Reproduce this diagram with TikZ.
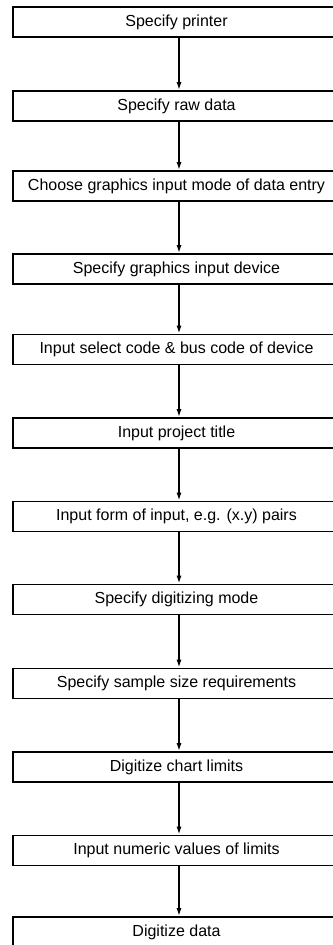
\documentclass[tikz,border=0pt]{standalone}
\usepackage{fontspec}
\setmainfont{Liberation Sans}
\usetikzlibrary{arrows.meta}
\begin{document}
\begin{tikzpicture}[x=1pt,y=-1pt,
  stepbox/.style={draw,line width=1.6pt,minimum width=327pt,minimum height=30pt,inner sep=0pt,font=\fontsize{16}{18}\selectfont,anchor=center},
  flow/.style={line width=1.6pt,-{Latex[length=8pt,width=5pt]}}]
\useasboundingbox (0,0) rectangle (332,945);
\node[stepbox] (b1) at (176.5,22) {Specify printer};
\node[stepbox] (b2) at (176.5,106) {Specify raw data};
\node[stepbox] (b3) at (176.5,186) {Choose graphics input mode of data entry};
\node[stepbox] (b4) at (176.5,269) {Specify graphics input device};
\node[stepbox] (b5) at (176.5,349.5) {Input select code \& bus code of device};
\node[stepbox] (b6) at (176.5,433) {Input project title};
\node[stepbox] (b7) at (176.5,516.5) {Input form of input, e.g. (x.y) pairs};
\node[stepbox] (b8) at (176.5,599.5) {Specify digitizing mode};
\node[stepbox] (b9) at (176.5,683.5) {Specify sample size requirements};
\node[stepbox] (b10) at (176.5,767) {Digitize chart limits};
\node[stepbox] (b11) at (176.5,850.5) {Input numeric values of limits};
\node[stepbox] (b12) at (176.5,932) {Digitize data};
\foreach \a/\b in {b1/b2,b2/b3,b3/b4,b4/b5,b5/b6,b6/b7,b7/b8,b8/b9,b9/b10,b10/b11,b11/b12}
  \draw[flow] ([xshift=2.5pt]\a.south) -- ([xshift=2.5pt]\b.north);
\end{tikzpicture}
\end{document}
